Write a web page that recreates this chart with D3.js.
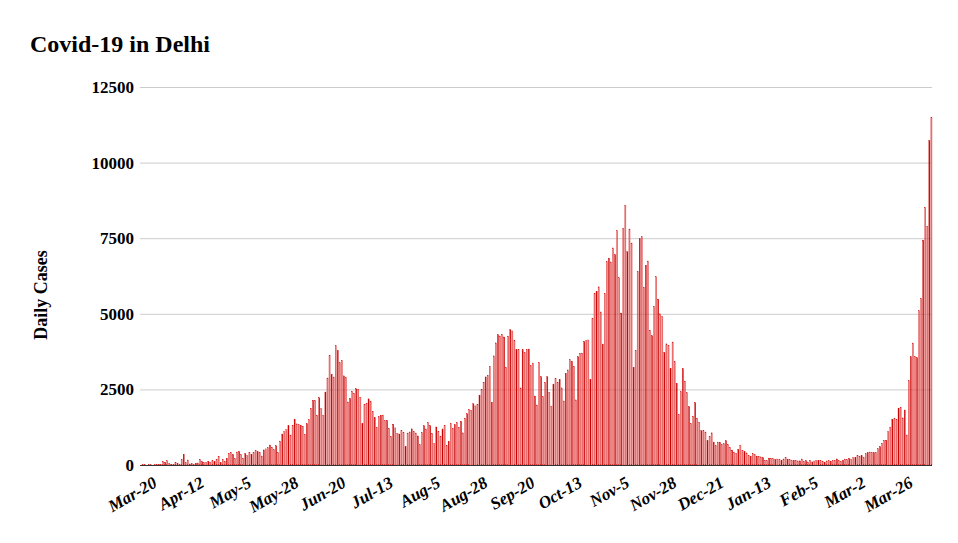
<!DOCTYPE html><html><head><meta charset="utf-8"><script src="https://cdn.jsdelivr.net/npm/d3@7"></script>
<style>body{margin:0;background:#fff}</style></head><body><svg id="c" width="958" height="543"></svg>
<script>
const tickLabels=["Mar-20","Apr-12","May-5","May-28","Jun-20","Jul-13","Aug-5","Aug-28","Sep-20","Oct-13","Nov-5","Nov-28","Dec-21","Jan-13","Feb-5","Mar-2","Mar-26"];
const yTicks=[0,2500,5000,7500,10000,12500];
const dailyCases=[
0,5,10,0,30,5,0,10,30,25,23,120,90,141,58,25,20,93,51,15,183,356,85,
166,35,51,17,62,67,186,110,78,75,128,92,138,111,190,293,75,190,125,223,384,427,349,
206,428,448,338,224,381,310,406,359,425,472,438,422,299,500,534,571,660,591,508,635,412,792,
1024,1106,1163,1295,990,1298,1513,1359,1330,1320,1282,1007,1366,1501,1877,2137,2134,1647,2224,1859,1647,2414,2877,
3630,3000,2909,3947,3788,3390,3460,2948,2889,2084,2199,2442,2373,2520,2505,2244,1379,2008,2033,2187,2089,1781,1573,
1246,1606,1647,1652,1462,1475,1211,954,1349,1227,1041,1025,1142,1075,613,1056,1093,1195,1118,1058,961,674,1076,
1299,1192,1404,1300,1050,707,1257,1113,956,1192,1300,652,787,1374,1215,1334,1412,1250,1450,1061,1544,1693,1840,
1808,2024,1954,2012,2312,2509,2737,2914,2973,3256,2077,3609,4039,4308,4266,4321,4235,3229,4263,4473,4432,4127,3812,
3813,2548,3816,3714,3827,3834,3292,3372,2282,1984,3390,2920,2258,2727,2920,2404,1947,2676,2871,2726,2832,2550,2116,
3036,3145,3483,3428,3259,2154,3579,3686,3701,4086,4116,4134,2832,4853,5673,5739,5891,5062,4001,5664,6725,6842,6715,
7178,6953,7745,6190,5023,7830,8593,7053,7802,7340,3235,3797,6396,7486,7546,5879,6608,6746,4454,4271,5246,6224,5482,
4998,4906,3726,4006,3944,3188,4067,3419,2706,1674,2419,3188,2776,2389,1935,1376,1617,2063,1547,1418,1134,1139,1091,
803,939,1063,758,655,758,757,677,703,800,677,585,494,424,384,519,654,486,444,399,306,295,386,
340,295,293,269,246,161,148,228,225,209,183,197,185,154,199,237,196,183,141,155,157,134,137,
200,113,141,99,154,100,130,147,151,146,124,94,134,145,128,145,154,200,149,128,161,197,185,
217,175,240,256,312,286,321,239,370,409,431,425,407,413,536,607,716,813,823,1101,1254,1515,1534,
1500,1881,1904,1558,1819,992,2790,3583,4033,3594,3548,5100,5506,7437,8521,7897,10732,11491];
const svg=d3.select("#c");
const font="'Liberation Serif','Times New Roman',serif";
const x=d3.scaleBand().domain(d3.range(dailyCases.length)).range([140,932]).paddingInner(0.45);
const y=d3.scaleLinear().domain([0,12500]).range([465,87]);
svg.append("text").attr("x",30).attr("y",52).attr("font-family",font).attr("font-weight","bold").attr("font-size",24).text("Covid-19 in Delhi");
const gy=svg.append("g").attr("transform","translate(140,0)").call(d3.axisLeft(y).tickValues(yTicks).tickSize(-792).tickPadding(6).tickFormat(d3.format("d")));
gy.select(".domain").remove();
gy.selectAll("line").attr("stroke","#ccc");
gy.selectAll("text").attr("font-family",font).attr("font-weight","bold").attr("font-size",17).attr("fill","#000");
svg.append("text").attr("transform","translate(47,295) rotate(-90)").attr("text-anchor","middle").attr("font-family",font).attr("font-weight","bold").attr("font-size",18).text("Daily Cases");
svg.append("g").selectAll("rect").data(dailyCases).join("rect")
 .attr("x",(d,i)=>x(i)).attr("width",x.bandwidth()).attr("y",d=>y(d)).attr("height",d=>y(0)-y(d))
 .attr("fill",(d,i)=>i%3===0?"#cc0000":"#f08080").attr("stroke","#d01010").attr("stroke-width",0.3);
svg.append("line").attr("x1",140).attr("x2",932).attr("y1",465.5).attr("y2",465.5).attr("stroke","#333");
const gx=svg.append("g").attr("transform","translate(0,465)").call(d3.axisBottom(x).tickValues(tickLabels.map((t,i)=>i*23)).tickSize(0).tickFormat((d)=>tickLabels[d/23]));
gx.select(".domain").remove();
gx.selectAll("text").attr("font-family",font).attr("font-weight","bold").attr("font-style","italic").attr("font-size",17).attr("fill","#000")
 .attr("text-anchor","end").attr("transform","translate(10,8) rotate(-30)");
</script></body></html>
